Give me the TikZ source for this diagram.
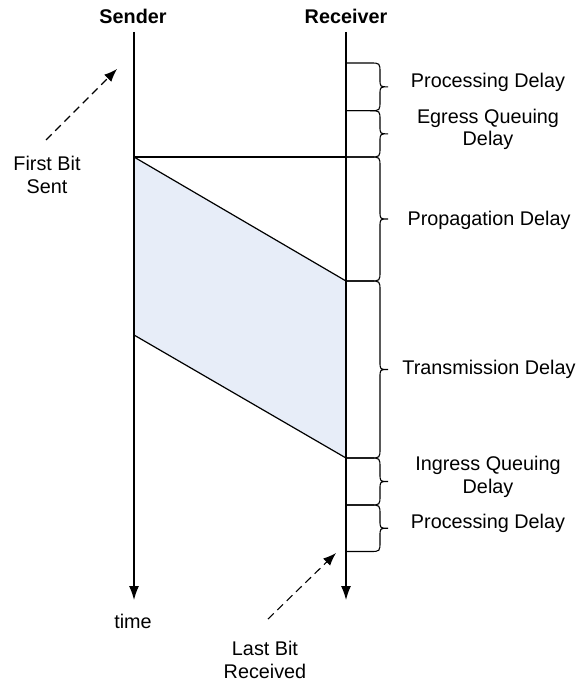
\documentclass[tikz,border=0pt]{standalone}
\usepackage{fontspec}
\setmainfont{Liberation Sans}
\usetikzlibrary{arrows.meta}
\definecolor{pktblue}{HTML}{E7EDF8}
\newcommand\dlybrace[2]{%
  \pgfmathsetmacro\bmid{(#1+#2)/2}%
  \draw[brc] (346,#1) -- (370,#1) .. controls (380,#1) .. (380,#1+10)
    -- (380,\bmid-8) .. controls (380,\bmid) .. (388,\bmid)
    .. controls (380,\bmid) .. (380,\bmid+8)
    -- (380,#2-10) .. controls (380,#2) .. (370,#2) -- (346,#2);}
\begin{document}
\begin{tikzpicture}[x=1pt,y=-1pt,
  lbl/.style={font=\fontsize{19.8}{22.5}\selectfont, align=center, inner sep=0pt},
  hdr/.style={font=\fontsize{19.8}{22.5}\selectfont\bfseries, inner sep=0pt},
  axis/.style={line width=1.2pt, -{Latex[length=14pt,width=10pt]}},
  seg/.style={line width=1.2pt},
  brc/.style={line width=1.1pt},
  dasharr/.style={line width=1.1pt, dash pattern=on 8pt off 5pt, -{Latex[length=13pt,width=10pt]}}]
\useasboundingbox (0,0) rectangle (578,682);
% axes
\node[hdr] (snd) at (133,16) {Sender};
\node[hdr] (rcv) at (346,16) {Receiver};
\coordinate (s0) at (134,32);
\coordinate (s1) at (134,600);
\coordinate (r0) at (346,32);
\coordinate (r1) at (346,600);
% packet
\coordinate (pa) at (134,157);
\coordinate (pb) at (346,157);
\coordinate (pc) at (346,281);
\coordinate (pd) at (346,458);
\coordinate (pe) at (134,335);
\fill[pktblue] (pa) -- (pc) -- (pd) -- (pe) -- cycle;
\draw[seg] (pa) -- (pb);
\draw[seg] (pa) -- (pc);
\draw[seg] (pe) -- (pd);
\draw[axis] (s0) -- (s1);
\draw[axis] (r0) -- (r1);
% braces
\dlybrace{63}{110.7}
\dlybrace{110.7}{157}
\dlybrace{157}{281}
\dlybrace{281}{458}
\dlybrace{458}{505}
\dlybrace{505}{551.5}
% labels
\node[lbl] (pd1) at (488,82) {Processing Delay};
\node[lbl] (eq) at (488,129.5) {Egress Queuing\\Delay};
\node[lbl] (pg) at (489,220) {Propagation Delay};
\node[lbl] (tx) at (489,369) {Transmission Delay};
\node[lbl] (iq) at (488,477) {Ingress Queuing\\Delay};
\node[lbl] (pd2) at (488,523) {Processing Delay};
\node[lbl] (tm) at (133,621) {time};
\node[lbl] (fb) at (47,175) {First Bit\\Sent};
\node[lbl] (lb) at (265,660) {Last Bit\\Received};
% dashed arrows
\coordinate (fbt) at (46,140);
\coordinate (fbh) at (117,69);
\coordinate (lbt) at (268,619);
\coordinate (lbh) at (336,553);
\draw[dasharr] (fbt) -- (fbh);
\draw[dasharr] (lbt) -- (lbh);
\end{tikzpicture}
\end{document}
